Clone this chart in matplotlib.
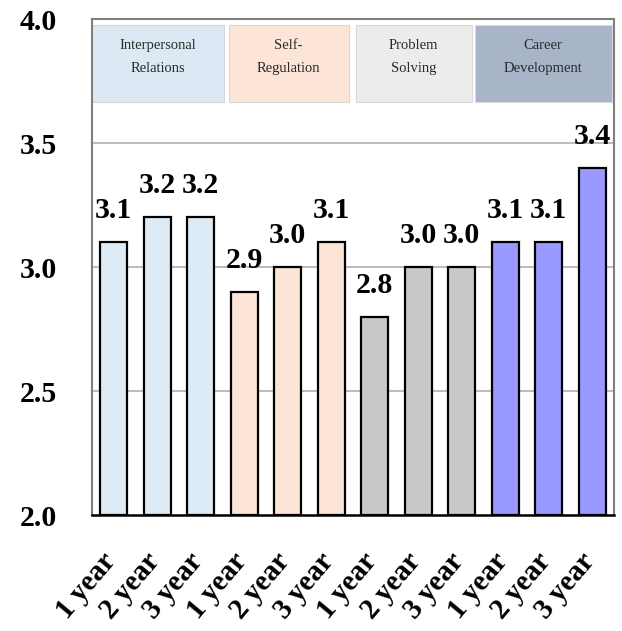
import matplotlib
matplotlib.use("Agg")
import matplotlib.pyplot as plt
from matplotlib.patches import Rectangle
from matplotlib.transforms import ScaledTranslation

categories = ["1 year", "2 year", "3 year"] * 4
values = [3.1, 3.2, 3.2, 2.9, 3.0, 3.1, 2.8, 3.0, 3.0, 3.1, 3.1, 3.4]
groups = ["Interpersonal\nRelations", "Self-\nRegulation", "Problem\nSolving", "Career\nDevelopment"]
bar_colors = ["#ddebf7", "#fce4d6", "#c9c9c9", "#9999ff"]
box_colors = ["#dce8f4", "#fce4d7", "#ececec", "#a8b5c9"]
yticks = [2.0, 2.5, 3.0, 3.5, 4.0]

plt.rcParams['font.family'] = ['Liberation Serif', 'DejaVu Serif']

fig = plt.figure(figsize=(6.22, 6.31), dpi=100)
ax = fig.add_axes([92/622, 1-515/631, (614-92)/622, (515-19)/631])

x = list(range(len(values)))
colors = [bar_colors[i // 3] for i in x]
ax.bar(x, [v - 2.0 for v in values], bottom=2.0, width=0.62,
       color=colors, edgecolor="black", linewidth=1.6, zorder=3)

for xi, v in zip(x, values):
    ax.annotate(f"{v:.1f}", (xi, v), xytext=(0, 13), textcoords="offset points",
                ha="center", va="bottom", fontsize=21.5, fontweight="bold", zorder=4)

ax.set_xlim(-0.5, len(values) - 0.5)
ax.set_ylim(2.0, 4.0)
ax.set_yticks(yticks)
ax.set_yticklabels([f"{t:.1f}" for t in yticks], fontsize=21.5, fontweight="bold")
ax.tick_params(axis="y", length=0, pad=25)
ax.set_xticks(x)
ax.set_xticklabels(categories, rotation=50, ha="right", va="top",
                   fontsize=21, fontweight="bold")
ax.tick_params(axis="x", length=0, pad=24)
offset = ScaledTranslation(8/100, 0, fig.dpi_scale_trans)
for lab in ax.get_xticklabels():
    lab.set_transform(lab.get_transform() + offset)

for t in [2.5, 3.0, 3.5]:
    ax.axhline(t, color="#b0b0b0", linewidth=1.2, zorder=1)

box_spans = [(-0.5, 2.53), (2.64, 5.40), (5.56, 8.23), (8.30, 11.45)]
for name, c, (x0, x1) in zip(groups, box_colors, box_spans):
    rect = Rectangle((x0, 3.665), x1 - x0, 0.31, facecolor=c, edgecolor="#d8d8d8",
                     linewidth=0.8, zorder=2)
    ax.add_patch(rect)
    ax.text((x0 + x1) / 2, 3.848, name, ha="center", va="center", fontsize=10.5,
            color="#2a2a2a", linespacing=2.0, zorder=3)

for s in ["left", "top", "right"]:
    ax.spines[s].set_color("#7f7f7f")
    ax.spines[s].set_linewidth(1.5)
ax.spines["bottom"].set_color("black")
ax.spines["bottom"].set_linewidth(1.8)

fig.savefig("out.png", dpi=100)
